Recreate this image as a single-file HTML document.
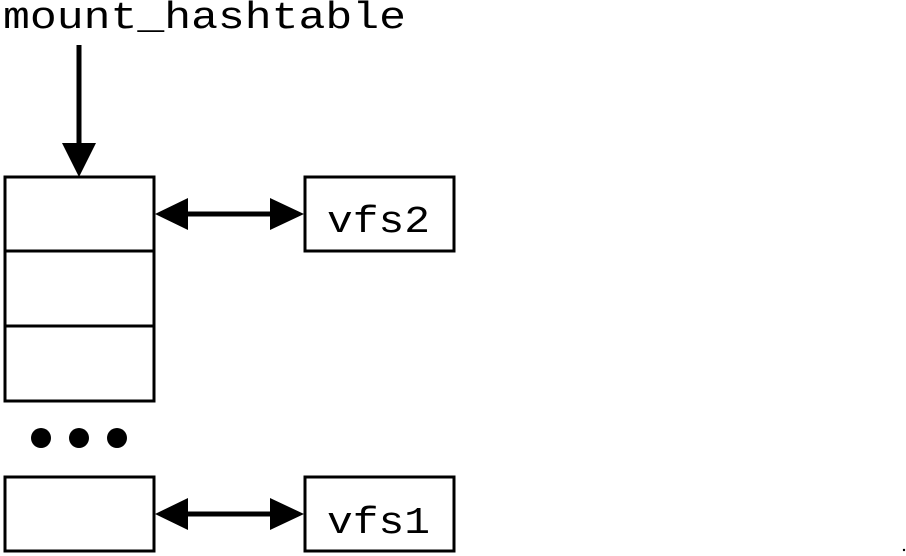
<!DOCTYPE html>
<html><head><style>
html,body{margin:0;padding:0;background:#fff;width:906px;height:556px;overflow:hidden}
</style></head><body>
<svg width="906" height="556" xmlns="http://www.w3.org/2000/svg">
<g font-family="Liberation Mono, monospace" font-size="38" fill="#000">
<text x="3" y="28" textLength="403" lengthAdjust="spacingAndGlyphs">mount_hashtable</text>
<text x="327" y="232" textLength="103" lengthAdjust="spacingAndGlyphs">vfs2</text>
<text x="327" y="533" textLength="103" lengthAdjust="spacingAndGlyphs">vfs1</text>
</g>
<g stroke="#000" stroke-width="3" fill="none">
<rect x="5" y="177" width="149" height="74"/>
<rect x="5" y="251" width="149" height="75"/>
<rect x="5" y="326" width="149" height="75"/>
<rect x="5" y="477" width="149" height="74"/>
<rect x="305" y="177" width="149" height="74"/>
<rect x="305" y="477" width="149" height="74"/>
</g>
<g stroke="#000" stroke-width="5">
<line x1="79" y1="45" x2="79" y2="146"/>
<line x1="185" y1="214" x2="274" y2="214"/>
<line x1="185" y1="514" x2="274" y2="514"/>
</g>
<g fill="#000">
<polygon points="62,143 96,143 79,177"/>
<polygon points="155,214 188,198 188,230"/>
<polygon points="304,214 270,198 270,230"/>
<polygon points="155,514 188,498 188,530"/>
<polygon points="304,514 270,498 270,530"/>
<circle cx="41" cy="438" r="10"/>
<circle cx="79" cy="438" r="10"/>
<circle cx="117" cy="438" r="10"/>
<circle cx="904" cy="550" r="1.2"/>
</g>
</svg>
</body></html>
